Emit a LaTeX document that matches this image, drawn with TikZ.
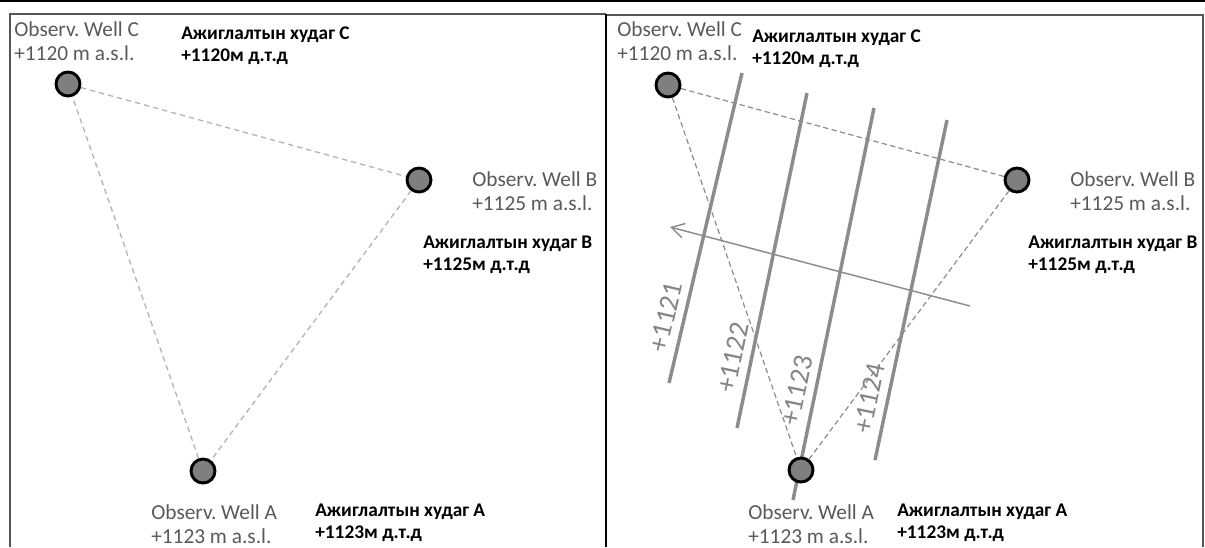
\documentclass[tikz,border=0pt]{standalone}
\usepackage{fontspec}
\setmainfont{Carlito}
\usetikzlibrary{arrows.meta}
\definecolor{txtgray}{HTML}{595959}
\definecolor{lblgray}{HTML}{858585}
\definecolor{contgray}{HTML}{8C8C8C}
\definecolor{dashlight}{HTML}{B4B4B4}
\definecolor{dashdark}{HTML}{8C8C8C}
\definecolor{wellgray}{HTML}{7F7F7F}
\definecolor{framegray}{HTML}{555555}
\begin{document}
\frenchspacing
\begin{tikzpicture}[x=0.75pt,y=-0.75pt,
  well/.style={circle, draw=black, line width=2.2pt, fill=wellgray, minimum size=18pt, inner sep=0pt},
  graytxt/.style={anchor=base west, align=left, inner sep=0pt, text=txtgray, font=\fontsize{16}{17.8}\selectfont},
  boldtxt/.style={anchor=base west, align=left, inner sep=0pt, text=black, font=\bfseries\fontsize{14.5}{17}\selectfont},
  lightdash/.style={draw=dashlight, line width=1pt, dash pattern=on 4pt off 3pt},
  darkdash/.style={draw=dashdark, line width=0.9pt, dash pattern=on 4pt off 2.5pt},
  contour/.style={draw=contgray, line width=2.6pt},
  contlbl/.style={sloped, anchor=south, inner sep=5.5pt, text=lblgray, font=\fontsize{21}{21}\selectfont},
  framebox/.style={draw=framegray, line width=1.3pt},
  flowarrow/.style={draw=contgray, line width=1.1pt, -{Straight Barb[length=9.5pt,width=11pt,line width=1.1pt]}}
]
\useasboundingbox (0,0) rectangle (1205,547);
% frames
\draw[black, line width=1.6pt] (0,1) -- (1205,1);
\draw[framebox] (10,547) |- (606,14);
\draw[framebox] (606,15) -| (1203,547);
\draw[black, line width=1.5pt] (606,14) -- (606,547);

% ---------- left panel ----------
\node[well] (lC) at (68,84) {};
\node[well] (lB) at (419,180) {};
\node[well] (lA) at (203,471) {};
\draw[lightdash] (lC) -- (lB);
\draw[lightdash] (lB) -- (lA);
\draw[lightdash] (lA) -- (lC);

% anchor = baseline of the last line
\node[graytxt] (lCg) at (14,60.7) {Observ. Well C\\+1120 m a.s.l.};
\node[boldtxt] (lCb) at (181,61.7) {Ажиглалтын худаг C\\+1120м д.т.д};
\node[graytxt] (lBg) at (472,210.7) {Observ. Well B\\+1125 m a.s.l.};
\node[boldtxt] (lBb) at (423,270.7) {Ажиглалтын худаг B\\+1125м д.т.д};
\node[graytxt] (lAg) at (151,543.7) {Observ. Well A\\+1123 m a.s.l.};
\node[boldtxt] (lAb) at (315,538.7) {Ажиглалтын худаг A\\+1123м д.т.д};

% ---------- right panel ----------
\coordinate (rCpos) at (668,85);
\coordinate (rBpos) at (1017,180);
\coordinate (rApos) at (801,470);
\path (rCpos) node[well, draw=none, fill=none] (rC) {};
\path (rBpos) node[well, draw=none, fill=none] (rB) {};
\path (rApos) node[well, draw=none, fill=none] (rA) {};
\draw[darkdash] (rC) -- (rB);
\draw[darkdash] (rC) -- (rA);
\draw[darkdash] (rB) -- (rA);

\coordinate (k1s) at (669,383); \coordinate (k1e) at (742,73);
\coordinate (k2s) at (737,428); \coordinate (k2e) at (807,93);
\coordinate (k3s) at (793,500); \coordinate (k3e) at (874,108);
\coordinate (k4s) at (875,460); \coordinate (k4e) at (947,120);
\draw[contour] (k1s) -- node[contlbl, pos=0.2] (l1121) {+1121} (k1e);
\draw[contour] (k2s) -- node[contlbl, pos=0.2] (l1122) {+1122} (k2e);
\draw[contour] (k3s) -- node[contlbl, pos=0.27] (l1123) {+1123} (k3e);
\draw[contour] (k4s) -- node[contlbl, pos=0.17] (l1124) {+1124} (k4e);

\coordinate (arrS) at (970,306);
\coordinate (arrE) at (670,227);
\draw[flowarrow] (arrS) -- (arrE);

\node[well] at (rCpos) {};
\node[well] at (rBpos) {};
\node[well] at (rApos) {};

\node[graytxt] (rCg) at (617,60.7) {Observ. Well C\\+1120 m a.s.l.};
\node[boldtxt] (rCb) at (752,64.7) {Ажиглалтын худаг C\\+1120м д.т.д};
\node[graytxt] (rBg) at (1070,210.7) {Observ. Well B\\+1125 m a.s.l.};
\node[boldtxt] (rBb) at (1028,270.7) {Ажиглалтын худаг B\\+1125м д.т.д};
\node[graytxt] (rAg) at (748,543.7) {Observ. Well A\\+1123 m a.s.l.};
\node[boldtxt] (rAb) at (897,538.7) {Ажиглалтын худаг A\\+1123м д.т.д};
\end{tikzpicture}
\end{document}
